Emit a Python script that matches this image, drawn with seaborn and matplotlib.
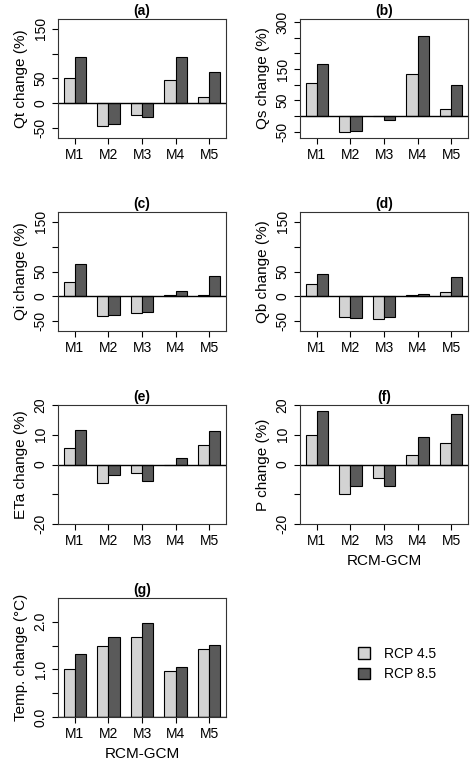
import matplotlib
matplotlib.use("Agg")
import matplotlib.pyplot as plt
import seaborn as sns
import pandas as pd
from matplotlib.patches import Patch

sns.set_style("white")
plt.rcParams['font.family'] = ['Liberation Sans', 'DejaVu Sans']
plt.rcParams['text.color'] = 'black'
plt.rcParams['axes.labelcolor'] = 'black'
plt.rcParams['xtick.color'] = 'black'
plt.rcParams['ytick.color'] = 'black'

models = ["M1", "M2", "M3", "M4", "M5"]
scenarios = ["RCP 4.5", "RCP 8.5"]
qt_45 = [52, -45, -24, 47, 12]; qt_85 = [94, -42, -27, 94, 63]
qs_45 = [107, -52, 0, 134, 23]; qs_85 = [165, -47, -13, 257, 99]
qi_45 = [28, -40, -33, 3, 2]; qi_85 = [66, -38, -31, 11, 40]
qb_45 = [24, -41, -45, 3, 8]; qb_85 = [44, -43, -42, 5, 39]
eta_45 = [5.4, -6.1, -2.9, 0, 6.7]; eta_85 = [11.6, -3.6, -5.4, 2.3, 11.4]
p_45 = [10, -9.8, -4.7, 3.1, 7.1]; p_85 = [18, -7.2, -7.2, 9.3, 16.9]
t_45 = [1.0, 1.5, 1.69, 0.96, 1.42]; t_85 = [1.33, 1.68, 1.97, 1.06, 1.52]

panels = [
    ("(a)", "Qt change (%)", qt_45, qt_85, (-70, 170), [-50, 0, 50, 100, 150], ["-50", "0", "50", "", "150"]),
    ("(b)", "Qs change (%)", qs_45, qs_85, (-70, 310), [-50, 0, 50, 100, 150, 200, 250, 300], ["-50", "", "50", "", "150", "", "", "300"]),
    ("(c)", "Qi change (%)", qi_45, qi_85, (-70, 170), [-50, 0, 50, 100, 150], ["-50", "0", "50", "", "150"]),
    ("(d)", "Qb change (%)", qb_45, qb_85, (-70, 170), [-50, 0, 50, 100, 150], ["-50", "0", "50", "", "150"]),
    ("(e)", "ETa change (%)", eta_45, eta_85, (-20, 20), [-20, -10, 0, 10, 20], ["-20", "", "0", "10", "20"]),
    ("(f)", "P change (%)", p_45, p_85, (-20, 20), [-20, -10, 0, 10, 20], ["-20", "", "0", "10", "20"]),
    ("(g)", "Temp. change (°C)", t_45, t_85, (0, 2.5), [0, 0.5, 1.0, 1.5, 2.0], ["0.0", "", "1.0", "", "2.0"]),
]

W, H = 474, 775
rects = [(58, 19), (300, 19), (58, 212), (300, 212), (58, 405), (300, 405), (58, 598)]
aw, ah = 168, 119
colors = ["#d3d3d3", "#5a5a5a"]

fig = plt.figure(figsize=(4.74, 7.75), dpi=100)
for (title, ylab, v45, v85, ylim, ticks, tlabels), (x0, y0) in zip(panels, rects):
    ax = fig.add_axes([x0 / W, 1 - (y0 + ah) / H, aw / W, ah / H])
    df = pd.DataFrame({"model": models * 2, "scenario": [scenarios[0]] * 5 + [scenarios[1]] * 5,
                       "value": v45 + v85})
    sns.barplot(data=df, x="model", y="value", hue="scenario", palette=colors, width=0.67,
                edgecolor="black", linewidth=0.8, ax=ax, legend=False, errorbar=None)
    ax.set_xlim(-0.5, 4.5)
    ax.set_ylim(*ylim)
    ax.set_yticks(ticks)
    ax.set_yticklabels(tlabels, rotation=90, va="center")
    ax.axhline(0, color="black", lw=1)
    ax.set_title(title, fontweight="bold", fontsize=10, pad=3)
    ax.set_ylabel(ylab, fontsize=11)
    ax.set_xlabel("")
    ax.tick_params(axis="both", direction="out", length=4, width=0.8, labelsize=10, left=True, bottom=True)
    for s in ax.spines.values():
        s.set_color("#333333"); s.set_linewidth(0.8)
    if title in ("(f)", "(g)"):
        ax.set_xlabel("RCM-GCM", fontsize=11)

fig.legend(handles=[Patch(facecolor=c, edgecolor="black", label=s) for c, s in zip(colors, scenarios)],
           loc="center left", bbox_to_anchor=(345 / W, 1 - 664 / H), frameon=False, fontsize=10,
           handlelength=0.9, handleheight=0.9, handletextpad=1.0)
fig.savefig("out.png", dpi=100)
